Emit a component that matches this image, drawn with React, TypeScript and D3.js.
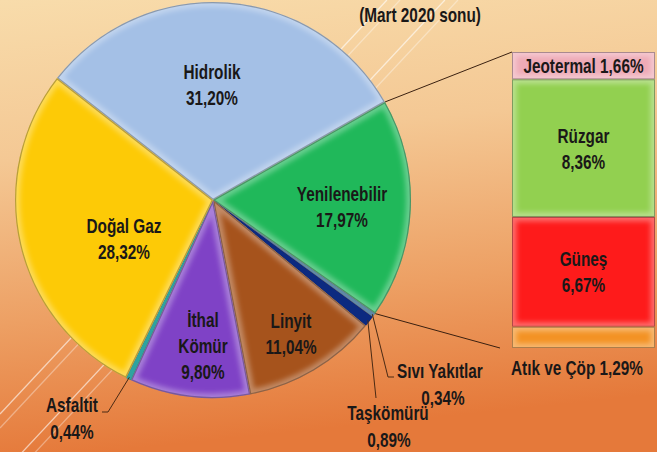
import React from "react";
import * as d3 from "d3";

// ---- data ----
const pieLabels = ["Hidrolik", "Yenilenebilir", "Sıvı Yakıtlar", "Taşkömürü", "Linyit", "İthal Kömür", "Asfaltit", "Doğal Gaz"];
const pieValues = [31.2, 17.97, 0.34, 0.89, 11.04, 9.8, 0.44, 28.32];
const barLabels = ["Jeotermal", "Rüzgar", "Güneş", "Atık ve Çöp"];
const barValues = [1.66, 8.36, 6.67, 1.29];
const subtitle = "(Mart 2020 sonu)";

// ---- styles / layout ----
const W = 657, H = 452;
const cx = 213, cy = 200, R = 198;
const startDeg = -52;
const pieColors = ["#a4c0e6", "#20b85a", "#5f8aa6", "#0c2a80", "#a6531c", "#7f42c6", "#2fa3a0", "#fdca06"];
const barColors = ["#eeaab6", "#92d050", "#fe1b1b", "#f39224"];
const textColor = "#1a1818";
const FONT = "'Liberation Sans', Arial, sans-serif";
const FS = 21;
const SX = 0.73;
const LH = 26;

const innerLabels: Record<number, { dx: number; dy: number; lines: string[] }> = {
  0: { dx: -1, dy: -116, lines: ["Hidrolik"] },
  1: { dx: 129, dy: 6, lines: ["Yenilenebilir"] },
  4: { dx: 78, dy: 133, lines: ["Linyit"] },
  5: { dx: -10, dy: 145, lines: ["İthal", "Kömür"] },
  7: { dx: -89, dy: 38, lines: ["Doğal Gaz"] },
};
const outerLabels: Record<number, { nx: number; ny: number; anchor: string; vx: number; leader: [number, number][] }> = {
  2: { nx: 397, ny: 378, anchor: "start", vx: 443, leader: [[388, 377], [394, 377]] },
  3: { nx: 388, ny: 420, anchor: "middle", vx: 389, leader: [[376, 398]] },
  6: { nx: 72, ny: 412, anchor: "middle", vx: 72, leader: [[108, 412], [102, 412]] },
};

const fmt = (v: number) => v.toFixed(2).replace(".", ",") + "%";

function T({ x, y, anchor = "middle", children }: { x: number; y: number; anchor?: string; children: React.ReactNode }) {
  return (
    <text
      transform={`translate(${x},${y}) scale(${SX},1)`}
      textAnchor={anchor}
      fontSize={FS}
      fontWeight="bold"
      fill={textColor}
    >
      {children}
    </text>
  );
}

export default function App() {
  const pie = d3
    .pie<number>()
    .sort(null)
    .value((d) => d)
    .startAngle((startDeg * Math.PI) / 180)
    .endAngle((startDeg * Math.PI) / 180 + 2 * Math.PI);
  const arcs = pie(pieValues);
  const arc = d3.arc<d3.PieArcDatum<number>>().innerRadius(0).outerRadius(R);
  const edgePoint = (a: number, r = R): [number, number] => [cx + r * Math.sin(a), cy - r * Math.cos(a)];

  const barTop = 52, barBottom = 348, barX = 512, barW = 143;
  const total = d3.sum(barValues);
  const y = d3.scaleLinear().domain([0, total]).range([barTop, barBottom]);
  let acc = 0;
  const segs = barValues.map((v, i) => {
    const s = { i, y0: y(acc), y1: y(acc + v), v };
    acc += v;
    return s;
  });

  const yen = arcs[1];
  const topConn = edgePoint(yen.startAngle);
  const botConn = edgePoint(yen.endAngle);
  const bcx = barX + barW / 2;

  return (
    <div style={{ position: "absolute", left: 0, top: 0 }}>
      <svg width={W} height={H} style={{ display: "block" }} fontFamily={FONT}>
        <defs>
          <linearGradient id="bg" x1="0" y1="0" x2="0.15" y2="1">
            <stop offset="0%" stopColor="#f8dcab" />
            <stop offset="35%" stopColor="#f4c894" />
            <stop offset="70%" stopColor="#eda064" />
            <stop offset="100%" stopColor="#e5793a" />
          </linearGradient>
          <filter id="blur3" x="-10%" y="-10%" width="120%" height="120%">
            <feGaussianBlur stdDeviation="2.5" />
          </filter>
          {arcs.map((a, i) => (
            <clipPath id={`sc${i}`} key={i}>
              <path d={arc(a) || ""} transform={`translate(${cx},${cy})`} />
            </clipPath>
          ))}
          {segs.map((s) => (
            <clipPath id={`bc${s.i}`} key={s.i}>
              <rect x={barX} y={s.y0} width={barW} height={s.y1 - s.y0} />
            </clipPath>
          ))}
        </defs>
        <rect x={0} y={0} width={W} height={H} fill="url(#bg)" />
        {[414, 428, 476, 490].map((b, k) => (
          <line key={k} x1={0} y1={b} x2={b / 1.07} y2={0} stroke="#fff" strokeOpacity={k % 2 ? 0.35 : 0.6} strokeWidth={1.3} />
        ))}

        <line x1={topConn[0]} y1={topConn[1]} x2={barX} y2={barTop} stroke="#3a2010" strokeWidth={1} />
        <line x1={botConn[0]} y1={botConn[1]} x2={barX - 12} y2={barBottom} stroke="#3a2010" strokeWidth={1} />

        <g>
          {arcs.map((a, i) => {
            const thin = a.endAngle - a.startAngle < 0.1;
            return (
              <g key={i}>
                <path d={arc(a) || ""} transform={`translate(${cx},${cy})`} fill={pieColors[i]} />
                <g clipPath={`url(#sc${i})`}>
                  {!thin && (
                    <path
                      d={arc(a) || ""}
                      transform={`translate(${cx},${cy})`}
                      fill="none"
                      stroke="#ffffff"
                      strokeOpacity={0.32}
                      strokeWidth={10}
                      filter="url(#blur3)"
                    />
                  )}
                  <path
                    d={arc(a) || ""}
                    transform={`translate(${cx},${cy})`}
                    fill="none"
                    stroke="#000"
                    strokeOpacity={thin ? 0.15 : 0.28}
                    strokeWidth={thin ? 1 : 2.5}
                  />
                </g>
              </g>
            );
          })}
        </g>

        {Object.entries(innerLabels).map(([k, l]) => {
          const i = +k;
          const lines = [...l.lines, fmt(pieValues[i])];
          const n = lines.length;
          return (
            <g key={k}>
              {lines.map((t, j) => (
                <T key={j} x={cx + l.dx} y={cy + l.dy + (j - (n - 1) / 2) * LH + 7.5}>
                  {t}
                </T>
              ))}
            </g>
          );
        })}

        {Object.entries(outerLabels).map(([k, l]) => {
          const i = +k;
          const a = arcs[i];
          const mid = (a.startAngle + a.endAngle) / 2;
          const p0 = edgePoint(mid, R - 2);
          const pts = [p0, ...l.leader];
          return (
            <g key={k}>
              <polyline points={pts.map((p) => p.join(",")).join(" ")} fill="none" stroke="#4a2a14" strokeWidth={1} />
              <T x={l.nx} y={l.ny} anchor={l.anchor}>
                {pieLabels[i]}
              </T>
              <T x={l.vx} y={l.ny + 27}>
                {fmt(pieValues[i])}
              </T>
            </g>
          );
        })}

        {segs.map((s) => (
          <g key={s.i}>
            <rect x={barX} y={s.y0} width={barW} height={s.y1 - s.y0} fill={barColors[s.i]} />
            <g clipPath={`url(#bc${s.i})`}>
              <rect
                x={barX}
                y={s.y0}
                width={barW}
                height={s.y1 - s.y0}
                fill="none"
                stroke="#fff"
                strokeOpacity={0.35}
                strokeWidth={9}
                filter="url(#blur3)"
              />
              <rect x={barX} y={s.y0} width={barW} height={s.y1 - s.y0} fill="none" stroke="#000" strokeOpacity={0.3} strokeWidth={2} />
            </g>
          </g>
        ))}
        <T x={bcx} y={(segs[0].y0 + segs[0].y1) / 2 + 7.5}>
          {barLabels[0] + " " + fmt(barValues[0])}
        </T>
        {[1, 2].map((i) => (
          <g key={i}>
            <T x={bcx} y={(segs[i].y0 + segs[i].y1) / 2 - LH / 2 + 7.5}>
              {barLabels[i]}
            </T>
            <T x={bcx} y={(segs[i].y0 + segs[i].y1) / 2 + LH / 2 + 7.5}>
              {fmt(barValues[i])}
            </T>
          </g>
        ))}
        <T x={barX + 65} y={segs[3].y1 + 27}>
          {barLabels[3] + " " + fmt(barValues[3])}
        </T>

        <T x={420} y={22}>
          {subtitle}
        </T>
      </svg>
    </div>
  );
}
